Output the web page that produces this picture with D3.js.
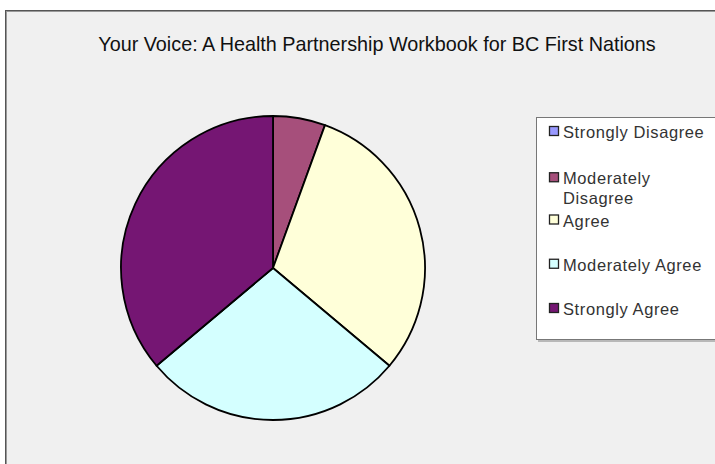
<!DOCTYPE html>
<html>
<head>
<meta charset="utf-8">
<script src="https://cdn.jsdelivr.net/npm/d3@7"></script>
<style>
  html, body { margin: 0; padding: 0; background: #ffffff; }
  svg { display: block; }
  text { font-family: "Liberation Sans", Arial, sans-serif; }
</style>
</head>
<body>
<svg id="chart" width="715" height="464"></svg>
<script>
// Survey responses
const categories = ["Strongly Disagree", "Moderately Disagree", "Agree", "Moderately Agree", "Strongly Agree"];
const responses = [0, 2, 11, 10, 13];
const legendLines = [["Strongly Disagree"], ["Moderately", "Disagree"], ["Agree"], ["Moderately Agree"], ["Strongly Agree"]];
const sliceColors = ["#9999ff", "#a64f7b", "#ffffd9", "#d4ffff", "#751673"];
const chartTitle = "Your Voice: A Health Partnership Workbook for BC First Nations";

const svg = d3.select("#chart");
const W = 715, H = 464;

// chart area with a bevelled frame on its top and left edges
svg.append("rect").attr("x", 6).attr("y", 11).attr("width", W).attr("height", H)
  .attr("fill", "#f0f0f0");
svg.append("line").attr("x1", 5).attr("x2", W).attr("y1", 10.5).attr("y2", 10.5)
  .attr("stroke", "#555").attr("stroke-width", 1);
svg.append("line").attr("x1", 5).attr("x2", W).attr("y1", 11.5).attr("y2", 11.5)
  .attr("stroke", "#999").attr("stroke-width", 1);
svg.append("line").attr("x1", 5.5).attr("x2", 5.5).attr("y1", 10).attr("y2", H)
  .attr("stroke", "#555").attr("stroke-width", 1);
svg.append("line").attr("x1", 6.5).attr("x2", 6.5).attr("y1", 11).attr("y2", H)
  .attr("stroke", "#999").attr("stroke-width", 1);

// title
svg.append("text")
  .attr("x", 377).attr("y", 51)
  .attr("text-anchor", "middle")
  .attr("font-size", 19.8)
  .attr("fill", "#111")
  .text(chartTitle);

// pie
const cx = 273, cy = 268, r = 152;
const color = d3.scaleOrdinal().domain(categories).range(sliceColors);
const pie = d3.pie().sort(null).value(d => d.v);
const arc = d3.arc().innerRadius(0).outerRadius(r);
const data = categories.map((c, i) => ({ c, v: responses[i] }));

svg.append("g")
  .attr("transform", `translate(${cx},${cy})`)
  .selectAll("path")
  .data(pie(data).filter(d => d.data.v > 0))
  .join("path")
  .attr("d", arc)
  .attr("fill", d => color(d.data.c))
  .attr("stroke", "#000")
  .attr("stroke-width", 1.8)
  .attr("stroke-linejoin", "round");

// legend box with a soft shadow
const lg = svg.append("g");
lg.append("rect").attr("x", 538).attr("y", 120).attr("width", 200).attr("height", 222)
  .attr("fill", "#b8b8b8");
lg.append("rect").attr("x", 536.5).attr("y", 117.5).attr("width", 200).attr("height", 222)
  .attr("fill", "#ffffff").attr("stroke", "#777").attr("stroke-width", 1);

// equal slots per entry; two-line entries sit slightly lower in their slot
const slot = d3.scaleLinear().domain([0, categories.length - 1]).range([138, 315]);
const item = lg.selectAll("g.item")
  .data(categories)
  .join("g")
  .attr("class", "item")
  .attr("transform", (c, i) => `translate(0,${slot(i) + (legendLines[i].length > 1 ? 2 : 0)})`);

item.append("rect")
  .attr("x", 549.5).attr("y", -11.5).attr("width", 9).attr("height", 9)
  .attr("fill", c => color(c))
  .attr("stroke", "#222").attr("stroke-width", 1.3);

item.each(function(c, i) {
  const g = d3.select(this);
  legendLines[i].forEach((line, j) => {
    g.append("text")
      .attr("x", 563).attr("y", j * 19.5)
      .attr("font-size", 16.5)
      .attr("letter-spacing", 0.6)
      .attr("fill", "#333")
      .text(line);
  });
});
</script>
</body>
</html>
